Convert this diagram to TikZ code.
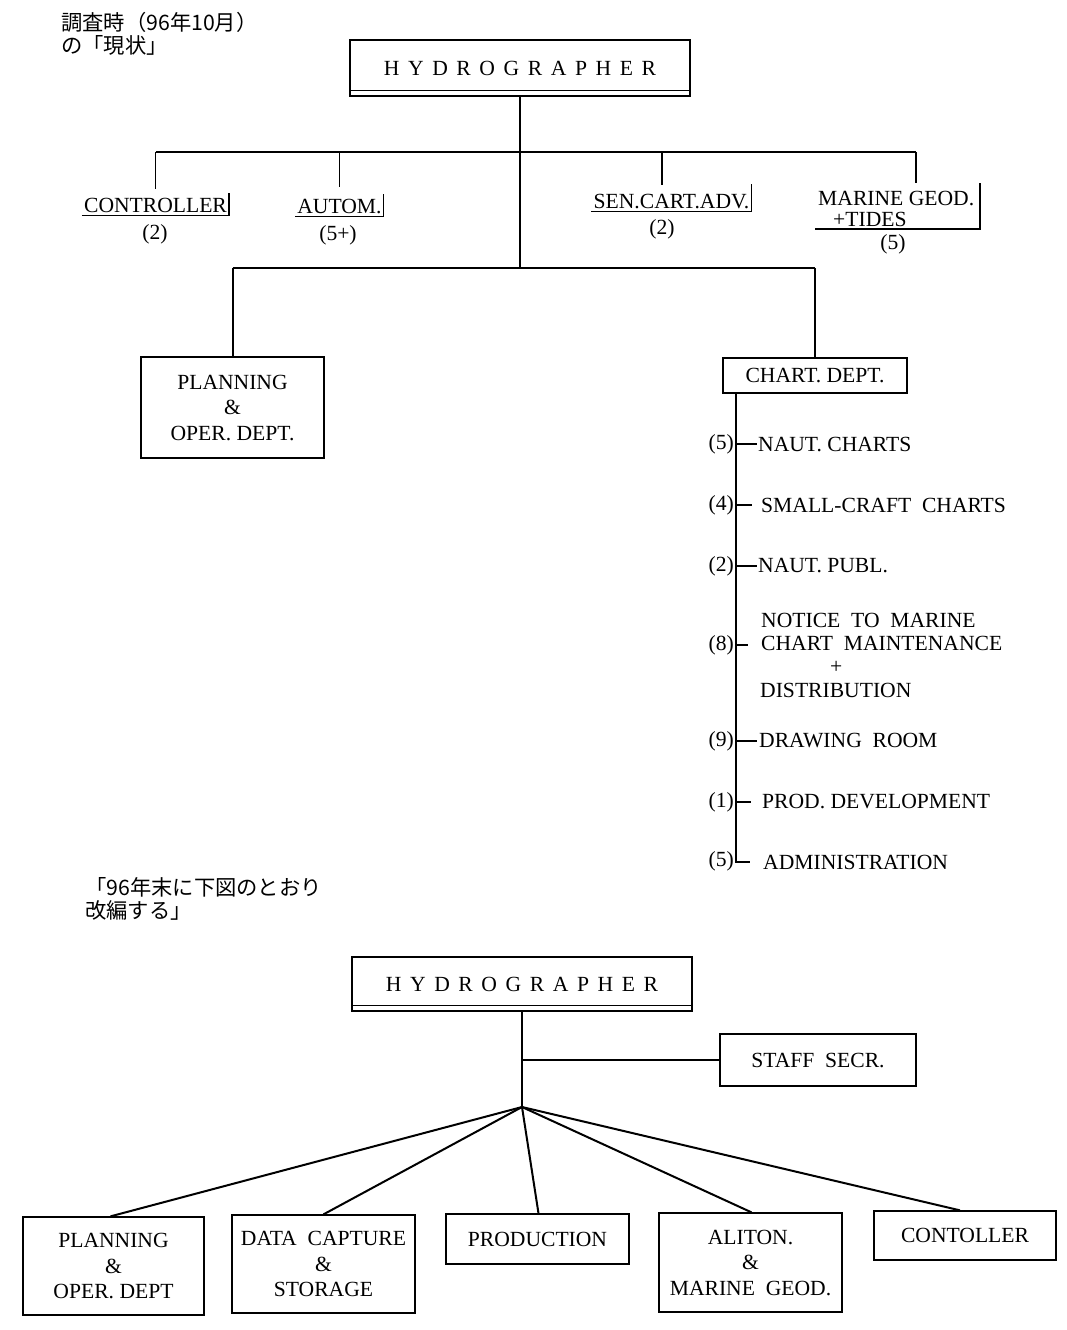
\documentclass[tikz,border=0pt]{standalone}
\usepackage{fontspec}
\setmainfont{Liberation Serif}
\newfontfamily\cjk{Noto Sans CJK JP}
\newcommand{\hy}{\hspace{8.6pt}}
\newcommand{\hydrotext}{H\hy Y\hy D\hy R\hy O\hy G\hy R\hy A\hy P\hy H\hy E\hy R}
\begin{document}
\begin{tikzpicture}[x=1pt,y=-1pt,
  every node/.style={font=\fontsize{21.6}{25.5}\selectfont, inner sep=0pt},
  box/.style={draw, line width=1.3pt, align=center},
  ul/.style={inner xsep=2pt, inner ysep=3pt, text height=16pt, text depth=0pt, anchor=base},
  thinl/.style={line width=1.3pt},
  wire/.style={line width=2pt},
  tick/.style={line width=1.2pt},
  item/.style={anchor=west, align=left},
  cnt/.style={anchor=east},
  jp/.style={anchor=west, align=left, font=\cjk\fontsize{21.3}{23}\selectfont}]
\useasboundingbox (0,0) rectangle (1067,1330);

% ---------- Japanese notes ----------
\node[jp] (jp1) at (61,33.5) {調査時（96年10月）\\の「現状」};
\node[jp] (jp2) at (85,898.5) {「96年末に下図のとおり\\改編する」};

% ---------- top HYDROGRAPHER ----------
\node[box, minimum width=340pt, minimum height=56pt] (h1) at (520,68) {\hydrotext};
\draw[thinl] ([yshift=6pt]h1.south west) -- ([yshift=6pt]h1.south east);

% staff row
\node[ul] (c1) at (155.5,212) {CONTROLLER};
\node[ul] (a1) at (339.5,213) {AUTOM.};
\node[ul] (s1) at (671.5,208) {SEN.CART.ADV.};
\node[anchor=north west, align=left, inner xsep=3pt, inner ysep=2pt] (m1) at (815,189)
  {MARINE GEOD.\\[-5pt]\hspace{15pt}+TIDES};

\draw[thinl] (c1.south west) -- (c1.south east) -- (c1.north east);
\draw[thinl] (a1.south west) -- (a1.south east) -- (a1.north east);
\draw[thinl] (s1.south west) -- (s1.south east) -- ([yshift=5pt]s1.north east);
\draw[thinl] (815,229) coordinate (mul) -- (980,229) coordinate (mur) -- (980,183) coordinate (mtop);

\node (c1n) at (155,234) {(2)};
\node (a1n) at (338,235) {(5+)};
\node (s1n) at (662,229) {(2)};
\node (m1n) at (893,244) {(5)};

\coordinate (bar) at (520,152);
\coordinate (sd) at (662,185);
\coordinate (md) at (916,183);
\coordinate (j) at (520,268);

\draw[wire] (h1.south) -- (j);
\draw[thinl] (bar -| c1.north) -- (bar -| md);
\draw[thinl] (bar -| c1.north) -- ([yshift=4pt]c1.north);
\draw[thinl] (bar -| a1.north) -- ([yshift=7pt]a1.north);
\draw[thinl] (bar -| sd) -- (sd);
\draw[thinl] (bar -| md) -- (md);

% ---------- departments ----------
\node[box, minimum width=183pt, minimum height=101pt] (p1) at (232.5,407.5)
  {PLANNING\\\&\\OPER.\ DEPT.};
\node[box, minimum width=184pt, minimum height=35pt] (cd) at (815,375.5) {CHART.\ DEPT.};

\draw[wire] (j -| p1.north) -- (j -| cd.north);
\draw[wire] (j -| p1.north) -- (p1.north);
\draw[wire] (j -| cd.north) -- (cd.north);

% chart dept list
\coordinate (sp) at (736,393);
\node[item] (i1) at (757,444) {\hspace{1pt}NAUT.\ CHARTS};
\node[item] (i2) at (752,505) {\hspace{9pt}SMALL-CRAFT\ \ CHARTS};
\node[item] (i3) at (757,566) {\hspace{1pt}NAUT.\ PUBL.};
\node[item, font=\fontsize{21.6}{23.3}\selectfont] (i4) at (748,655)
  {\hspace{13pt}NOTICE\ \ TO\ \ MARINE\\\hspace{13pt}CHART\ \ MAINTENANCE\\\hspace{82pt}+\\\hspace{12pt}DISTRIBUTION};
\node[item] (i5) at (757,741) {\hspace{2pt}DRAWING\ \ ROOM};
\node[item] (i6) at (751,802) {\hspace{11pt}PROD.\ DEVELOPMENT};
\node[item] (i7) at (750,862) {\hspace{13pt}ADMINISTRATION};

\node[cnt] (k1) at (734,444) {(5)};
\node[cnt] (k2) at (734,505) {(4)};
\node[cnt] (k3) at (734,566) {(2)};
\node[cnt] (k4) at (734,645) {(8)};
\node[cnt] (k5) at (734,741) {(9)};
\node[cnt] (k6) at (734,802) {(1)};
\node[cnt] (k7) at (734,861) {(5)};

\draw[thinl] (sp |- cd.south) -- (sp |- i7.west) -- (i7.west);
\draw[tick] (sp |- i1.west) -- (i1.west);
\draw[tick] (sp |- i2.west) -- (i2.west);
\draw[tick] (sp |- i3.west) -- (i3.west);
\draw[tick] ([yshift=10pt]i4.west -| sp) -- ([yshift=10pt]i4.west);
\draw[tick] (sp |- i5.west) -- (i5.west);
\draw[tick] (sp |- i6.west) -- (i6.west);

% ---------- planned organisation ----------
\node[box, minimum width=340pt, minimum height=54pt] (h2) at (522,984) {\hydrotext};
\draw[thinl] ([yshift=6pt]h2.south west) -- ([yshift=6pt]h2.south east);

\node[box, minimum width=196pt, minimum height=52pt] (st) at (818,1060) {STAFF\ \ SECR.};
\coordinate (f) at (522,1107);
\draw[wire] (h2.south) -- (f);
\draw[wire] (h2.south |- st.west) -- (st.west);

\node[box, minimum width=181pt, minimum height=98pt] (b1) at (113.5,1266) {PLANNING\\\&\\OPER.\ DEPT};
\node[box, minimum width=183pt, minimum height=98pt] (b2) at (323.5,1264) {DATA\ \ CAPTURE\\\&\\STORAGE};
\node[box, minimum width=183pt, minimum height=50pt] (b3) at (537.5,1239) {PRODUCTION};
\node[box, minimum width=183pt, minimum height=99pt] (b4) at (750.5,1262.5) {ALITON.\\\&\\MARINE\ \ GEOD.};
\node[box, minimum width=182pt, minimum height=49pt] (b5) at (965,1235.5) {CONTOLLER};

\draw[wire] (f) -- ([xshift=-3pt]b1.north);
\draw[wire] (f) -- (b2.north);
\draw[wire] (f) -- ([xshift=1pt]b3.north);
\draw[wire] (f) -- ([xshift=1pt]b4.north);
\draw[wire] (f) -- ([xshift=-5pt]b5.north);
\end{tikzpicture}
\end{document}
